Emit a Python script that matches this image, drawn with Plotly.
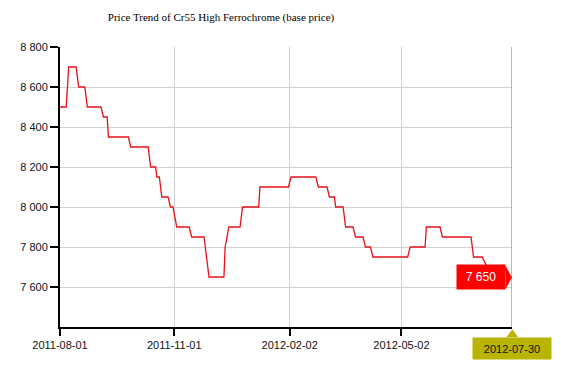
import plotly.graph_objects as go

# ---- data ----
dates = [
    "2011-08-01", "2011-08-06", "2011-08-08", "2011-08-14", "2011-08-16", "2011-08-21",
    "2011-08-23", "2011-09-03", "2011-09-05", "2011-09-08", "2011-09-09", "2011-09-25",
    "2011-09-27", "2011-10-11", "2011-10-13", "2011-10-17", "2011-10-18", "2011-10-20",
    "2011-10-22", "2011-10-27", "2011-10-29", "2011-10-31", "2011-11-03", "2011-11-13",
    "2011-11-15", "2011-11-25", "2011-11-26", "2011-11-29", "2011-12-11", "2011-12-12",
    "2011-12-15", "2011-12-24", "2011-12-26", "2012-01-08", "2012-01-09", "2012-02-01",
    "2012-02-03", "2012-02-23", "2012-02-25", "2012-03-03", "2012-03-05", "2012-03-09",
    "2012-03-10", "2012-03-16", "2012-03-18", "2012-03-24", "2012-03-26", "2012-04-01",
    "2012-04-03", "2012-04-07", "2012-04-09", "2012-05-07", "2012-05-09", "2012-05-21",
    "2012-05-22", "2012-06-02", "2012-06-04", "2012-06-27", "2012-06-29", "2012-07-06",
    "2012-07-10", "2012-07-24", "2012-07-27", "2012-07-30",
]
prices = [
    8500, 8500, 8700, 8700, 8600, 8600,
    8500, 8500, 8450, 8450, 8350, 8350,
    8300, 8300, 8200, 8200, 8150, 8150,
    8050, 8050, 8000, 8000, 7900, 7900,
    7850, 7850, 7800, 7650, 7650, 7800,
    7900, 7900, 8000, 8000, 8100, 8100,
    8150, 8150, 8100, 8100, 8050, 8050,
    8000, 8000, 7900, 7900, 7850, 7850,
    7800, 7800, 7750, 7750, 7800, 7800,
    7900, 7900, 7850, 7850, 7750, 7750,
    7700, 7700, 7650, 7650,
]
x_ticks = ["2011-08-01", "2011-11-01", "2012-02-02", "2012-05-02"]
y_ticks = [7600, 7800, 8000, 8200, 8400, 8600, 8800]
title_text = "Price Trend of Cr55 High Ferrochrome (base price)"

OFF = 8  # default body margin of the page
W, H = 561 - OFF, 366 - OFF
L, T = 52 - OFF, 47 - OFF
PW, PH = 460, 280
R, B = W - L - PW, H - T - PH

def px(x):  # page pixel -> paper x
    return (x - OFF - L) / PW

def py(y):  # page pixel -> paper y
    return (T + PH - (y - OFF)) / PH

last_date, last_price = dates[-1], prices[-1]
OLIVE = "#b9b400"

fig = go.Figure()
fig.add_trace(go.Scatter(
    x=dates, y=prices, mode="lines",
    line=dict(color="#e8101a", width=1.3),
    hoverinfo="skip", showlegend=False,
))

fig.update_layout(
    width=W, height=H,
    margin=dict(l=L, r=R, t=T, b=B),
    paper_bgcolor="white", plot_bgcolor="white",
    separators=". ",
    title=dict(text=title_text, x=(221 - OFF) / W, xanchor="center", y=1 - (17 - OFF) / H, yanchor="middle",
               font=dict(family="Liberation Serif, Times New Roman, serif", size=11, color="#000")),
    font=dict(family="Liberation Sans, Arial, sans-serif", size=11, color="#111"),
    xaxis=dict(
        type="date", range=[dates[0], last_date],
        tickvals=x_ticks, ticktext=x_ticks,
        showgrid=True, gridcolor="#d2d2d2", gridwidth=1,
        showline=True, linecolor="black", linewidth=2,
        ticks="outside", ticklen=7, tickwidth=1.5, tickcolor="black",
        zeroline=False, fixedrange=True,
    ),
    yaxis=dict(
        range=[7400, 8800],
        tickvals=y_ticks, tickformat=",d",
        showgrid=True, gridcolor="#d2d2d2", gridwidth=1,
        showline=True, linecolor="black", linewidth=2,
        ticks="outside", ticklen=8, tickwidth=1.5, tickcolor="black",
        zeroline=False, fixedrange=True,
    ),
)

# crosshair line at the last date
fig.add_shape(type="line", xref="x", yref="paper", x0=last_date, x1=last_date, y0=0, y1=1,
              line=dict(color="#b0ac2a", width=1.5))

# last value flag (red)
fig.add_annotation(
    x=last_date, y=last_price, xref="x", yref="y",
    text=f"{last_price:,}".replace(",", " "), showarrow=False,
    xanchor="right", yanchor="middle", xshift=-6.5,
    width=48, height=24, borderpad=0,
    bgcolor="#ff0000", font=dict(color="white", size=12, family="Liberation Sans, Arial, sans-serif"),
)
fig.add_shape(type="path", xref="paper", yref="paper",
              path=f"M {px(505.5)} {py(265.7)} L {px(511.8)} {py(277.5)} L {px(505.5)} {py(289.3)} Z",
              fillcolor="#ff0000", line=dict(width=0))

# last date flag (olive)
fig.add_annotation(
    x=last_date, y=0, xref="x", yref="paper",
    text=last_date, showarrow=False,
    xanchor="center", yanchor="top", yshift=-9.5,
    width=78, height=21, borderpad=0,
    bgcolor=OLIVE, font=dict(color="#111", size=11, family="Liberation Sans, Arial, sans-serif"),
)
fig.add_shape(type="path", xref="paper", yref="paper",
              path=f"M {px(506.3)} {py(337.2)} L {px(512.3)} {py(329.3)} L {px(518.3)} {py(337.2)} Z",
              fillcolor=OLIVE, line=dict(width=0))

fig.write_html("out.html", config={"displayModeBar": False})
